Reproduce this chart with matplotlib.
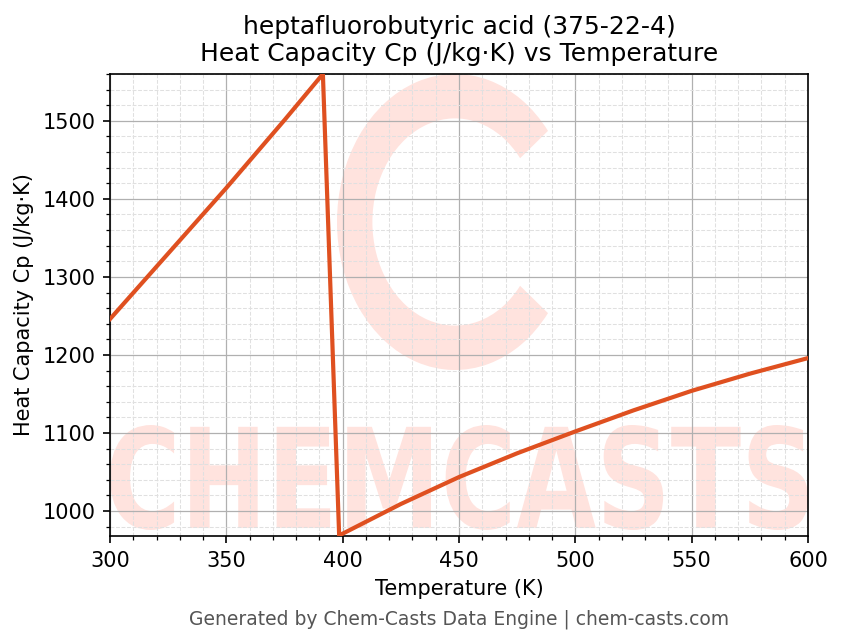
import matplotlib

matplotlib.use("Agg")
import matplotlib.pyplot as plt
from matplotlib.patches import PathPatch, Wedge
from matplotlib.textpath import TextPath
from matplotlib.font_manager import FontProperties
from matplotlib.transforms import Affine2D
from matplotlib.ticker import MultipleLocator

# solid branch, then the drop at the melting point, then liquid branch
temp_k = [300, 325, 350, 375, 391.5, 398.5, 400, 425, 450, 475, 500, 525, 550, 575, 600]
cp = [1246, 1330, 1414, 1501, 1560, 968, 971, 1009, 1043.5, 1074, 1102, 1129, 1154, 1176, 1196]

TITLE = "heptafluorobutyric acid (375-22-4)\nHeat Capacity Cp (J/kg·K) vs Temperature"
FOOTER = "Generated by Chem-Casts Data Engine | chem-casts.com"
LINE = "#DF5020"
WATERMARK = "#FFE3DE"
DPI = 150

fig = plt.figure(figsize=(843 / DPI, 644 / DPI), dpi=DPI)
ax = fig.add_axes([110 / 843, 1 - 536 / 644, 698 / 843, 462 / 644])


def _px(sx, sy, tx, ty):
    # pixel-based placement (top-left origin) -> figure inches
    return (Affine2D().scale(sx / DPI, sy / DPI).translate(tx / DPI, (644 - ty) / DPI)
            + fig.dpi_scale_trans)


# watermark: brush "C" logo and the CHEMCASTS word, kept under the grid
logo = Wedge((0, 0), 1, 38, 322, width=0.3, color=WATERMARK, lw=0, zorder=0.5)
logo.set_transform(_px(118, 148, 455, 222))
ax.add_patch(logo)

tp = TextPath((0, 0), "CHEMCASTS", size=1, prop=FontProperties(family="DejaVu Sans", weight="bold"))
bb = tp.get_extents()
word = PathPatch(tp, color=WATERMARK, lw=0, zorder=0.5)
word.set_transform(Affine2D().translate(-bb.x0, -bb.y0).scale(1 / bb.width, 1 / bb.height)
                   + _px(698, 105, 110, 530))
ax.add_patch(word)

ax.plot(temp_k, cp, color=LINE, lw=2, zorder=3)

ax.set_xlim(300, 600)
ax.set_ylim(968, 1560)
ax.xaxis.set_major_locator(MultipleLocator(50))
ax.xaxis.set_minor_locator(MultipleLocator(10))
ax.yaxis.set_major_locator(MultipleLocator(100))
ax.yaxis.set_minor_locator(MultipleLocator(20))
ax.grid(True, which="major", color="#b0b0b0", lw=0.6)
ax.grid(True, which="minor", color="#e0e0e0", lw=0.5, ls="--")

ax.set_xlabel("Temperature (K)")
ax.set_ylabel("Heat Capacity Cp (J/kg·K)")
ax.set_title(TITLE, fontsize=12)
fig.text(459 / 843, 1 - 619 / 644, FOOTER, ha="center", va="center", fontsize=9, color="#555555")

fig.savefig("out.png", dpi=DPI)
